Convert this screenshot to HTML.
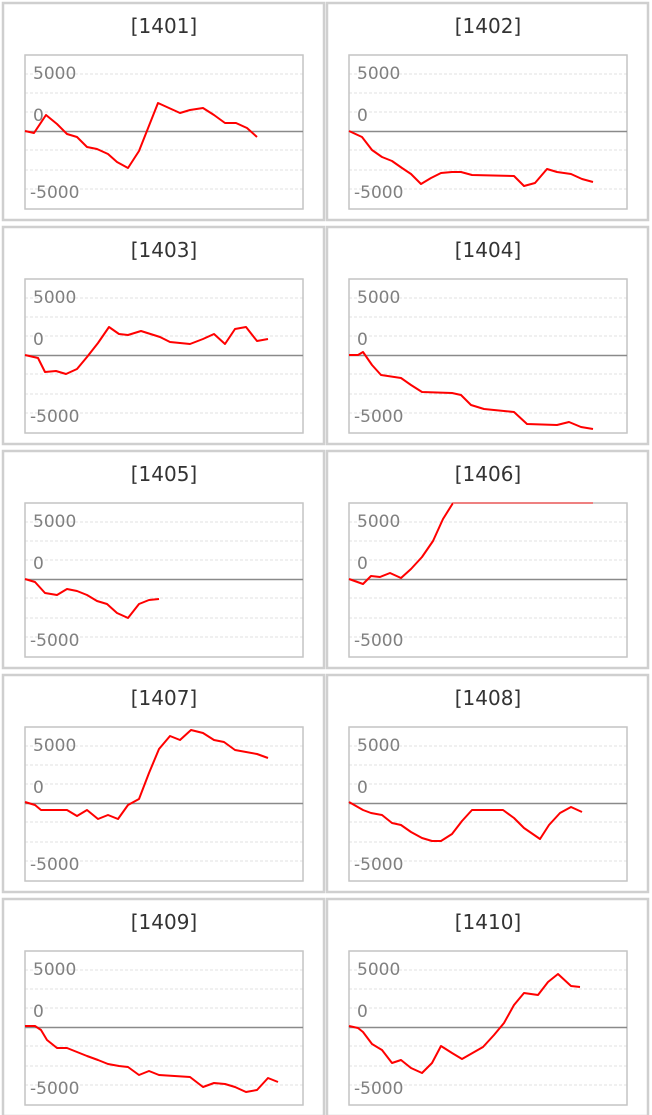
<!DOCTYPE html>
<html><head><meta charset="utf-8"><style>
html,body{margin:0;padding:0;background:#fff;}
svg{display:block;}
.fr{fill:#fff;stroke:#cfcfcf;stroke-width:2.5}
.pl{fill:none;stroke:#c4c4c4;stroke-width:1.5}
.gr{stroke:#e0e0e0;stroke-width:1;stroke-dasharray:3,2}
.ax{stroke:#8a8a8a;stroke-width:1.6}
.t{font-family:"DejaVu Sans",sans-serif;font-size:20px;fill:#333;text-anchor:middle}
.l{font-family:"DejaVu Sans",sans-serif;font-size:17px;fill:#808080}
.s{fill:none;stroke:#f00;stroke-width:2;stroke-linejoin:round}
</style></head><body>
<svg width="652" height="1115" viewBox="0 0 652 1115">
<defs>
<g id="p">
<rect class="fr" x="3" y="3" width="321" height="217"/>
<line class="gr" x1="25" y1="74" x2="303" y2="74"/>
<line class="gr" x1="25" y1="93" x2="303" y2="93"/>
<line class="gr" x1="25" y1="112" x2="303" y2="112"/>
<line class="gr" x1="25" y1="150" x2="303" y2="150"/>
<line class="gr" x1="25" y1="170" x2="303" y2="170"/>
<line class="gr" x1="25" y1="189" x2="303" y2="189"/>
<rect class="pl" x="25" y="55" width="278" height="154"/>
<line class="ax" x1="25" y1="131.5" x2="303" y2="131.5"/>
</g>
</defs>
<use href="#p" x="0" y="0"/><use href="#p" x="324" y="0"/>
<use href="#p" x="0" y="224"/><use href="#p" x="324" y="224"/>
<use href="#p" x="0" y="448"/><use href="#p" x="324" y="448"/>
<use href="#p" x="0" y="672"/><use href="#p" x="324" y="672"/>
<use href="#p" x="0" y="896"/><use href="#p" x="324" y="896"/>

<g>
<text class="t" x="164" y="33">[1401]</text><text class="t" x="488" y="33">[1402]</text>
<text class="t" x="164" y="257">[1403]</text><text class="t" x="488" y="257">[1404]</text>
<text class="t" x="164" y="481">[1405]</text><text class="t" x="488" y="481">[1406]</text>
<text class="t" x="164" y="705">[1407]</text><text class="t" x="488" y="705">[1408]</text>
<text class="t" x="164" y="929">[1409]</text><text class="t" x="488" y="929">[1410]</text>
</g>
<g class="l">
<text x="33" y="79">5000</text><text x="33" y="121">0</text><text x="30" y="198">-5000</text>
<text x="357" y="79">5000</text><text x="357" y="121">0</text><text x="354" y="198">-5000</text>
<text x="33" y="303">5000</text><text x="33" y="345">0</text><text x="30" y="422">-5000</text>
<text x="357" y="303">5000</text><text x="357" y="345">0</text><text x="354" y="422">-5000</text>
<text x="33" y="527">5000</text><text x="33" y="569">0</text><text x="30" y="646">-5000</text>
<text x="357" y="527">5000</text><text x="357" y="569">0</text><text x="354" y="646">-5000</text>
<text x="33" y="751">5000</text><text x="33" y="793">0</text><text x="30" y="870">-5000</text>
<text x="357" y="751">5000</text><text x="357" y="793">0</text><text x="354" y="870">-5000</text>
<text x="33" y="975">5000</text><text x="33" y="1017">0</text><text x="30" y="1094">-5000</text>
<text x="357" y="975">5000</text><text x="357" y="1017">0</text><text x="354" y="1094">-5000</text>
</g>

<polyline class="s" points="25,131 34,133 46,115 57,124 67,134 77,137 87,147 97,149 108,154 117,162 128,168 139,151 158,103 169,108 180,113 190,110 203,108 214,115 225,123 236,123 247,128 257,137"/>
<polyline class="s" points="349,131 362,137 372,150 382,157 392,161 402,168 411,174 421,184 431,178 441,173 452,172 461,172 472,175 514,176 524,186 535,183 547,169 557,172 571,174 582,179 593,182"/>
<polyline class="s" points="25,355 38,358 45,372 56,371 66,374 77,369 87,357 98,343 109,327 119,334 128,335 141,331 160,337 170,342 190,344 203,339 214,334 225,344 235,329 246,327 257,341 268,339"/>
<polyline class="s" points="349,355 358,355 363,352 372,365 381,375 401,378 411,385 422,392 452,393 461,395 471,405 484,409 514,412 527,424 557,425 569,422 581,427 593,429"/>
<polyline class="s" points="25,579 35,582 45,593 57,595 67,589 77,591 87,595 97,601 107,604 117,613 128,618 139,604 149,600 159,599"/>
<polyline class="s" points="349,579 363,584 371,576 380,577 390,573 401,578 411,569 422,557 433,541 443,519 453,503"/>
<line x1="453" y1="503" x2="593" y2="503" stroke="#ee8080" stroke-width="2"/>
<polyline class="s" points="25,802 35,805 41,810 67,810 77,816 87,810 98,819 108,815 118,819 128,805 139,799 149,773 159,749 170,736 180,740 191,730 203,733 214,740 224,742 235,750 257,754 268,758"/>
<polyline class="s" points="349,802 363,810 371,813 382,815 392,823 401,825 411,832 422,838 432,841 441,841 452,834 462,821 472,810 503,810 514,818 524,828 540,839 549,825 560,813 571,807 582,812"/>
<polyline class="s" points="25,1026 35,1026 41,1030 47,1040 57,1048 67,1048 77,1052 87,1056 98,1060 108,1064 119,1066 128,1067 139,1075 149,1071 159,1075 190,1077 203,1087 214,1083 225,1084 235,1087 246,1092 257,1090 268,1078 278,1082"/>
<polyline class="s" points="349,1026 358,1028 363,1032 372,1044 382,1050 392,1063 401,1060 411,1068 422,1073 432,1063 441,1046 452,1053 462,1059 483,1047 494,1035 504,1023 514,1005 524,993 538,995 548,982 558,974 571,986 580,987"/>
</svg>
</body></html>
